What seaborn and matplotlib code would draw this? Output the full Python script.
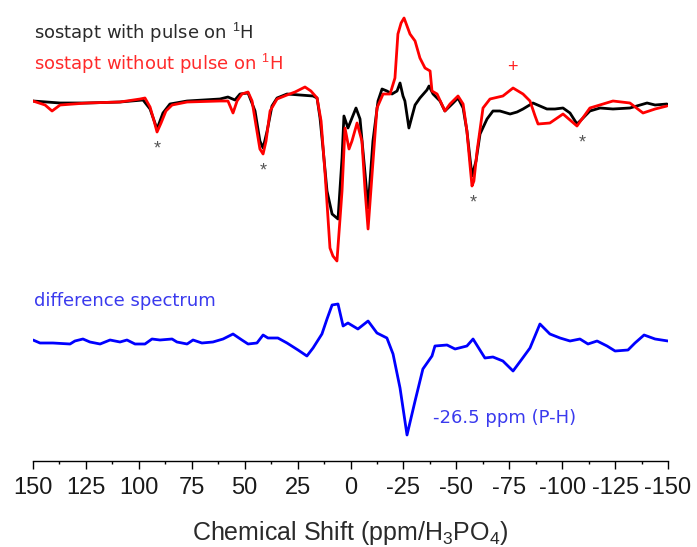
import matplotlib
matplotlib.use("Agg")
import matplotlib.pyplot as plt
import seaborn as sns
import pandas as pd
import numpy as np

# ---- data (ppm, intensity a.u.) ----
black_ppm = [150.0, 137.2, 124.5, 108.9, 98.0, 94.7, 91.4, 88.6, 85.3, 77.2, 61.7, 57.9, 54.6, 52.2,
             48.4, 45.1, 42.8, 41.3, 39.4, 37.1, 34.7, 30.0, 23.9, 17.7, 15.8, 14.4, 13.0, 11.1, 8.7,
             5.9, 4.0, 3.1, 1.2, -2.6, -4.5, -6.9, -8.3, -10.6, -13.0, -14.9, -17.2, -19.6, -22.0,
             -23.4, -24.8, -25.7, -27.6, -29.1, -30.5, -32.8, -36.1, -37.1, -39.0, -42.3, -44.6,
             -48.0, -50.8, -53.2, -55.0, -57.4, -59.3, -61.2, -64.5, -67.3, -70.6, -75.4, -78.7,
             -81.5, -86.2, -89.5, -92.8, -96.6, -100.4, -103.7, -107.0, -109.4, -113.1, -117.9,
             -124.0, -132.0, -140.1, -143.9, -149.5]
black_int = [1, -1, -1, 0, 2, -7, -27, -11, -2, 1, 3, 5, 2, 8,
             9, -9, -39, -46, -29, -4, 4, 8, 7, 6, 4, -16, -46, -89, -112,
             -117, -56, -14, -26, -6, -17, -72, -106, -39, 1, 13, 11, 8, 11,
             19, 6, 1, -26, -14, -3, 4, 12, 16, 8, 1, -9,
             -2, 4, -6, -29, -74, -59, -32, -17, -9, -9, -12, -10,
             -7, -1, -4, -7, -7, -6, -11, -22, -17, -9, -6,
             -7, -6, -1, -3, -2]

red_ppm = [150.0, 144.3, 141.0, 137.2, 124.5, 108.9, 99.4, 97.1, 94.7, 92.8, 91.4, 89.5, 87.2, 84.3,
           77.2, 61.7, 57.9, 55.5, 53.6, 51.3, 48.4, 46.5, 44.6, 42.8, 41.3, 39.9, 38.0, 34.7, 30.0,
           26.2, 21.5, 18.7, 15.8, 13.9, 12.0, 9.7, 8.3, 6.4, 4.0, 2.6, 0.7, -0.7, -3.1, -5.4, -6.9,
           -8.3, -10.2, -12.5, -15.4, -18.7, -21.0, -22.4, -23.9, -25.3, -26.7, -28.1, -30.5, -32.8,
           -35.2, -37.6, -38.5, -40.9, -44.6, -47.0, -50.8, -53.2, -55.0, -56.5, -57.4, -58.3, -59.8,
           -62.6, -65.9, -72.0, -76.8, -81.5, -84.8, -87.2, -88.6, -94.2, -100.4, -107.0, -113.1,
           -124.0, -132.0, -138.2, -143.9, -149.5]
red_int = [1, -3, -9, -3, -1, 0, 3, 4, -5, -19, -30, -21, -9, -3,
           0, 1, 1, -11, 1, 8, 10, 1, -24, -47, -52, -39, -9, 3, 7,
           10, 15, 11, 4, -19, -72, -146, -154, -159, -89, -26, -47, -39, -21, -39, -89,
           -127, -72, -6, 8, 8, 24, 68, 79, 84, 76, 68, 61, 44,
           34, 31, 11, 8, -9, -2, 6, -2, -29, -64, -84, -79, -49,
           -6, 3, 6, 14, 8, 1, -14, -22, -21, -12, -24, -6,
           1, -1, -11, -7, -4]

diff_ppm = [150.0, 146.7, 140.6, 132.5, 130.2, 126.4, 123.1, 118.3, 113.6, 108.9, 105.6, 101.8, 97.1,
            93.8, 90.0, 84.3, 82.0, 77.2, 74.4, 70.2, 65.0, 60.2, 55.5, 51.3, 48.4, 44.2, 41.3, 39.0,
            34.3, 30.0, 24.8, 20.6, 17.7, 13.5, 11.1, 8.7, 5.9, 3.5, 1.2, -3.5, -8.3, -12.5, -17.2,
            -20.1, -23.4, -26.7, -30.5, -34.2, -38.5, -39.9, -45.6, -49.4, -55.0, -57.9, -63.5, -67.3,
            -72.0, -76.8, -81.0, -84.8, -89.5, -94.2, -99.0, -103.7, -108.4, -112.2, -116.5, -121.2,
            -125.0, -131.1, -134.4, -138.7, -143.9, -150.0]
diff_int = [2, -1, -1, -2, 1, 3, 0, -2, 2, 0, 2, -2, -2,
            3, 2, 3, 0, -2, 2, -1, 0, 3, 8, 2, -2, -1, 7, 4,
            4, -1, -8, -14, -6, 8, 23, 37, 38, 16, 19, 13, 21, 9, 4,
            -12, -46, -93, -59, -27, -14, -4, -3, -7, -4, 3, -16, -15,
            -19, -29, -17, -6, 18, 8, 4, 1, 3, -2, 1, -4,
            -9, -8, -1, 7, 3, 1]

tick_values = [150, 125, 100, 75, 50, 25, 0, -25, -50, -75, -100, -125, -150]
star_ppm = [91.4, 41.3, -57.9, -109.4]
star_int = [-47, -69, -101, -41]
plus_ppm = [-76.3]
plus_int = [34]

top_offset = 359
diff_offset = 119

sns.set_theme(style="white")
plt.rcParams['font.family'] = ['Liberation Sans', 'DejaVu Sans']
plt.rcParams['mathtext.fontset'] = 'custom'
plt.rcParams['mathtext.rm'] = 'Liberation Sans'
plt.rcParams['mathtext.it'] = 'Liberation Sans'

fig = plt.figure(figsize=(6.97, 5.47), dpi=100)
ax = fig.add_axes([33/697, 86/547, 635/697, 461/547])

df_b = pd.DataFrame({"ppm": black_ppm, "I": np.array(black_int) + top_offset})
df_r = pd.DataFrame({"ppm": red_ppm, "I": np.array(red_int) + top_offset})
df_d = pd.DataFrame({"ppm": diff_ppm, "I": np.array(diff_int) + diff_offset})

sns.lineplot(data=df_b, x="ppm", y="I", sort=False, color="black", lw=2.0, ax=ax)
sns.lineplot(data=df_r, x="ppm", y="I", sort=False, color="#ff0000", lw=2.0, ax=ax)
sns.lineplot(data=df_d, x="ppm", y="I", sort=False, color="#0000ff", lw=2.0, ax=ax)

for xp, yp in zip(star_ppm, star_int):
    ax.text(xp, yp + top_offset, "*", color="#555555", fontsize=13, ha="center", va="center")
for xp, yp in zip(plus_ppm, plus_int):
    ax.text(xp, yp + top_offset, "+", color="#ff2020", fontsize=13, ha="center", va="center")

txt_font = ['DejaVu Sans']
ax.text(149.3, 428, "sostapt with pulse on $^{1}$H", color="#2a2a2a", fontsize=13,
        family=txt_font, ha="left", va="center")
ax.text(149.3, 397, "sostapt without pulse on $^{1}$H", color="#ff2a2a", fontsize=13,
        family=txt_font, ha="left", va="center")
ax.text(149.5, 160, "difference spectrum", color="#3a3aee", fontsize=13,
        family=txt_font, ha="left", va="center")
ax.text(-39.0, 43, "-26.5 ppm (P-H)", color="#3a3aee", fontsize=13,
        family=txt_font, ha="left", va="center")

ax.set_xlim(150, -150)
ax.set_ylim(0, 461)
ax.set_xticks(tick_values)
ax.set_xticklabels([str(t) for t in tick_values], fontsize=17)
ax.set_xticks(np.arange(-137.5, 150, 25), minor=True)
ax.set_yticks([])
ax.set_xlabel("Chemical Shift (ppm/H$_3$PO$_4$)", fontsize=18, color="#2a2a2a", labelpad=14)
ax.set_ylabel("")
for s in ["top", "left", "right"]:
    ax.spines[s].set_visible(False)
ax.spines["bottom"].set_color("black")
ax.spines["bottom"].set_linewidth(1.0)
ax.tick_params(axis="x", which="major", direction="out", length=5.8, width=1, color="black",
               bottom=True, pad=6, labelcolor="#1a1a1a")
ax.tick_params(axis="x", which="minor", direction="out", length=2.5, width=1, color="black", bottom=True)

fig.savefig("out.png", dpi=100)
